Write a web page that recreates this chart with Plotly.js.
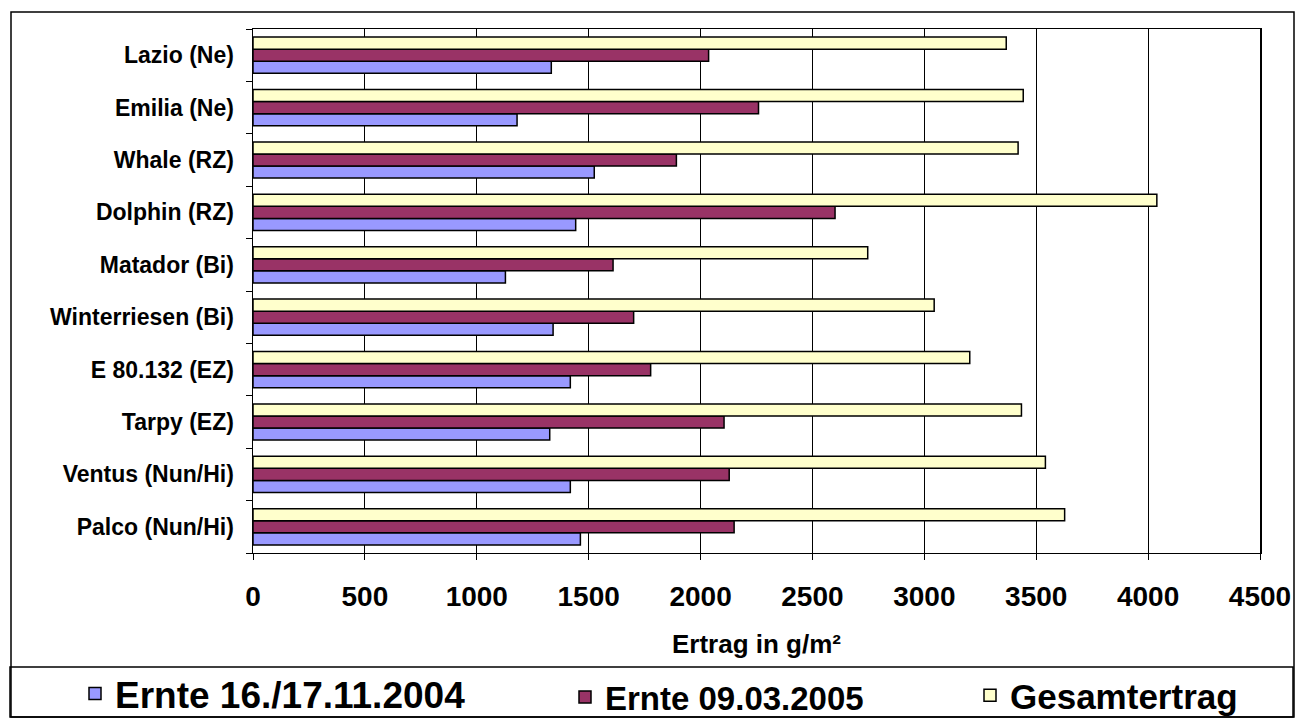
<!DOCTYPE html>
<html>
<head>
<meta charset="utf-8">
<script src="https://cdn.plot.ly/plotly-3.0.1.min.js"></script>
<style>html,body{margin:0;padding:0;background:#fff;}#chart{width:1303px;height:718px;}</style>
</head>
<body>
<div id="chart"></div>
<script>
// Categories (bottom to top)
const sorten = ["Palco (Nun/Hi)", "Ventus (Nun/Hi)", "Tarpy (EZ)", "E 80.132 (EZ)", "Winterriesen (Bi)",
                "Matador (Bi)", "Dolphin (RZ)", "Whale (RZ)", "Emilia (Ne)", "Lazio (Ne)"];
// Yield in g/m²
const ernte2004 = [1463, 1418, 1326, 1418, 1341, 1128, 1442, 1525, 1180, 1333];
const ernte2005 = [2150, 2128, 2105, 1777, 1701, 1609, 2601, 1892, 2259, 2036];
const gesamt    = [3627, 3541, 3434, 3203, 3044, 2747, 4039, 3419, 3442, 3366];
const xTicks = [0, 500, 1000, 1500, 2000, 2500, 3000, 3500, 4000, 4500];
const seriesNames = ["Ernte 16./17.11.2004", "Ernte 09.03.2005", "Gesamtertrag"];

const FONT = "Liberation Sans, Arial, Helvetica, sans-serif";
const W = 1303, H = 718;
const L = 253, R = 43, T = 29, B = 165;
const pw = W - L - R, ph = H - T - B;
const px = x => (x - L) / pw;
const py = y => (H - B - y) / ph;

const lineStyle = {color: "#000", width: 1.5};
const traces = [
  {type: "bar", orientation: "h", y: sorten, x: ernte2004, name: seriesNames[0], legend: "legend",
   marker: {color: "#9999FF", line: lineStyle}},
  {type: "bar", orientation: "h", y: sorten, x: ernte2005, name: seriesNames[1], legend: "legend2",
   marker: {color: "#993366", line: lineStyle}},
  {type: "bar", orientation: "h", y: sorten, x: gesamt, name: seriesNames[2], legend: "legend3",
   marker: {color: "#FFFFCC", line: lineStyle}}
];

const legendBase = (xpx, size) => ({
  orientation: "h", x: px(xpx), xanchor: "left", y: py(725), yanchor: "bottom",
  font: {family: FONT, size: size, color: "#000", weight: "bold"},
  bgcolor: "rgba(0,0,0,0)", borderwidth: 0
});

const layout = {
  width: W, height: H, autosize: false,
  margin: {l: L, r: R, t: T, b: B, pad: 0, autoexpand: false},
  paper_bgcolor: "#fff", plot_bgcolor: "#fff",
  font: {family: FONT, color: "#000", weight: "bold"},
  barmode: "group", bargap: 0.31, bargroupgap: 0,
  showlegend: true,
  legend: legendBase(75, 37),
  legend2: legendBase(565, 33),
  legend3: legendBase(970, 35),
  xaxis: {range: [0, 4500], tickvals: xTicks, ticktext: xTicks.map(String),
          showgrid: true, gridcolor: "#000", gridwidth: 1,
          showline: true, linecolor: "#000", linewidth: 1, mirror: true,
          ticks: "outside", ticklen: 6, tickcolor: "#000", tickwidth: 1,
          tickfont: {family: FONT, size: 28, color: "#000", weight: "bold"},
          ticklabelstandoff: 12, zeroline: false, fixedrange: true, automargin: false,
          title: {text: "Ertrag in g/m²", font: {family: FONT, size: 26, color: "#000", weight: "bold"}, standoff: 24}},
  yaxis: {type: "category", categoryorder: "array", categoryarray: sorten,
          showgrid: false, showline: true, linecolor: "#000", linewidth: 1.5, mirror: true,
          ticks: "outside", ticklen: 6, tickson: "boundaries", tickcolor: "#000", tickwidth: 1,
          tickfont: {family: FONT, size: 23, color: "#000", weight: "bold"},
          ticklabelstandoff: 13, fixedrange: true, automargin: false},
  shapes: [
    {type: "rect", xref: "paper", yref: "paper", x0: px(11), x1: px(1294), y0: py(12), y1: py(717),
     line: {color: "#000", width: 1.5}, fillcolor: "rgba(0,0,0,0)", layer: "below"},
    {type: "rect", xref: "paper", yref: "paper", x0: px(10), x1: px(1293), y0: py(667), y1: py(717),
     line: {color: "#000", width: 1.5}, fillcolor: "rgba(0,0,0,0)", layer: "below"}
  ]
};

Plotly.newPlot("chart", traces, layout, {staticPlot: true, displayModeBar: false});
</script>
</body>
</html>
